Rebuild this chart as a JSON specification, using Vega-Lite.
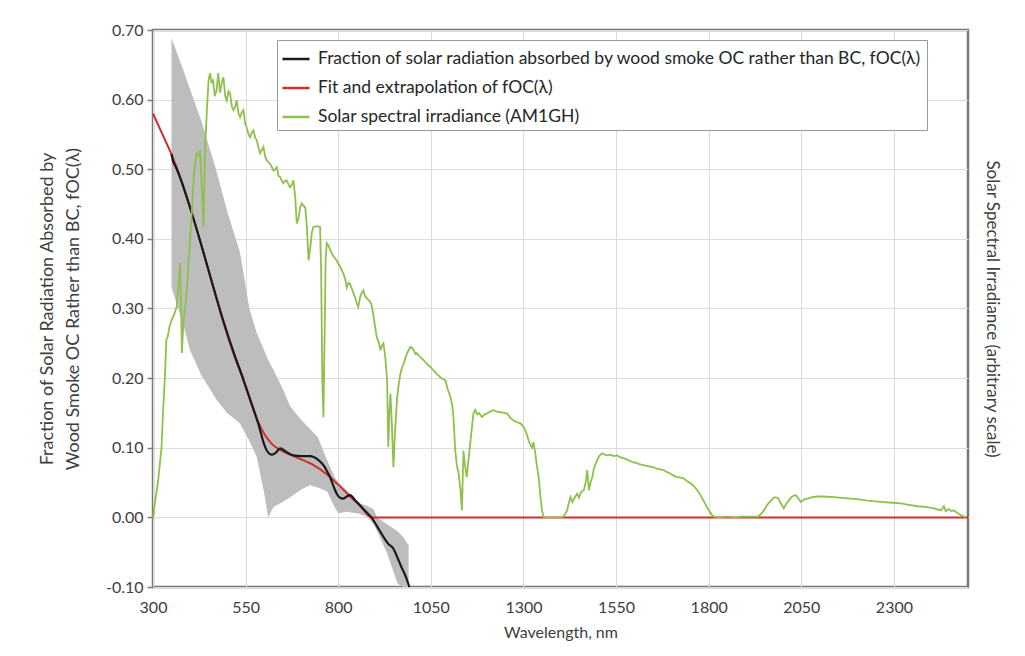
{
  "$schema": "https://vega.github.io/schema/vega-lite/v6.json",
  "autosize": {"type": "none"},
  "width": 815,
  "height": 557,
  "padding": {"left": 153, "top": 30, "right": 57, "bottom": 69},
  "background": "#ffffff",
  "config": {
    "font": "Lato",
    "view": {"stroke": "#777777", "strokeWidth": 2.5},
    "axis": {"labelFont": "Lato", "titleFont": "Lato", "labelColor": "#404040", "titleColor": "#404040", "labelFontSize": 16, "titleFontSize": 16, "titleFontWeight": "normal", "gridColor": "#dcdcdc", "gridWidth": 1}
  },
  "datasets": {
    "band": [
      {"x": 350, "lo": 0.33, "hi": 0.688}, {"x": 380, "lo": 0.28, "hi": 0.645}, {"x": 400, "lo": 0.24, "hi": 0.615},
      {"x": 430, "lo": 0.205, "hi": 0.57}, {"x": 470, "lo": 0.17, "hi": 0.5}, {"x": 500, "lo": 0.15, "hi": 0.44},
      {"x": 535, "lo": 0.135, "hi": 0.38}, {"x": 560, "lo": 0.11, "hi": 0.3}, {"x": 580, "lo": 0.087, "hi": 0.265},
      {"x": 600, "lo": 0.035, "hi": 0.24}, {"x": 611, "lo": 0.0, "hi": 0.226}, {"x": 625, "lo": 0.015, "hi": 0.212},
      {"x": 650, "lo": 0.022, "hi": 0.185}, {"x": 670, "lo": 0.029, "hi": 0.16}, {"x": 700, "lo": 0.04, "hi": 0.14},
      {"x": 724, "lo": 0.046, "hi": 0.127}, {"x": 745, "lo": 0.043, "hi": 0.115}, {"x": 770, "lo": 0.037, "hi": 0.082},
      {"x": 790, "lo": 0.015, "hi": 0.058}, {"x": 800, "lo": 0.006, "hi": 0.05}, {"x": 823, "lo": 0.008, "hi": 0.039},
      {"x": 860, "lo": 0.005, "hi": 0.02}, {"x": 880, "lo": 0.0, "hi": 0.016}, {"x": 895, "lo": -0.01, "hi": 0.012},
      {"x": 905, "lo": -0.02, "hi": 0.0}, {"x": 932, "lo": -0.052, "hi": -0.01}, {"x": 960, "lo": -0.095, "hi": -0.02},
      {"x": 975, "lo": -0.1, "hi": -0.028}, {"x": 990, "lo": -0.1, "hi": -0.04}
    ],
    "fit": [
      {"x": 300, "y": 0.58}, {"x": 330, "y": 0.545}, {"x": 355, "y": 0.515}, {"x": 380, "y": 0.478}, {"x": 400, "y": 0.445},
      {"x": 430, "y": 0.392}, {"x": 460, "y": 0.336}, {"x": 472, "y": 0.313}, {"x": 490, "y": 0.28}, {"x": 517, "y": 0.236},
      {"x": 544, "y": 0.197}, {"x": 560, "y": 0.172}, {"x": 580, "y": 0.142}, {"x": 600, "y": 0.12}, {"x": 620, "y": 0.106},
      {"x": 643, "y": 0.097}, {"x": 670, "y": 0.09}, {"x": 697, "y": 0.084}, {"x": 730, "y": 0.076}, {"x": 769, "y": 0.062},
      {"x": 800, "y": 0.047}, {"x": 832, "y": 0.03}, {"x": 860, "y": 0.016}, {"x": 891, "y": 0.0}, {"x": 2500, "y": 0.0}
    ],
    "foc": [
      {"x": 350, "y": 0.522}, {"x": 355, "y": 0.51}, {"x": 360, "y": 0.505}, {"x": 380, "y": 0.478}, {"x": 400, "y": 0.445},
      {"x": 430, "y": 0.392}, {"x": 460, "y": 0.336}, {"x": 490, "y": 0.282}, {"x": 517, "y": 0.238}, {"x": 544, "y": 0.198},
      {"x": 565, "y": 0.165}, {"x": 584, "y": 0.135}, {"x": 600, "y": 0.105}, {"x": 607, "y": 0.096}, {"x": 621, "y": 0.09},
      {"x": 632, "y": 0.093}, {"x": 643, "y": 0.099}, {"x": 660, "y": 0.094}, {"x": 679, "y": 0.089}, {"x": 700, "y": 0.088},
      {"x": 724, "y": 0.088}, {"x": 745, "y": 0.083}, {"x": 760, "y": 0.075}, {"x": 770, "y": 0.066}, {"x": 778, "y": 0.058},
      {"x": 787, "y": 0.045}, {"x": 796, "y": 0.034}, {"x": 805, "y": 0.028}, {"x": 814, "y": 0.027}, {"x": 823, "y": 0.03},
      {"x": 832, "y": 0.032}, {"x": 845, "y": 0.025}, {"x": 859, "y": 0.017}, {"x": 875, "y": 0.008}, {"x": 891, "y": -0.001},
      {"x": 905, "y": -0.013}, {"x": 922, "y": -0.028}, {"x": 935, "y": -0.038}, {"x": 949, "y": -0.045}, {"x": 960, "y": -0.058},
      {"x": 972, "y": -0.073}, {"x": 980, "y": -0.082}, {"x": 989, "y": -0.095}, {"x": 992, "y": -0.1}
    ],
    "solar": [
      {"x": 300, "y": 0}, {"x": 305, "y": 0.02}, {"x": 314, "y": 0.053}, {"x": 320, "y": 0.085}, {"x": 323, "y": 0.1},
      {"x": 327, "y": 0.15}, {"x": 332, "y": 0.2}, {"x": 336, "y": 0.255}, {"x": 340, "y": 0.26}, {"x": 345, "y": 0.275},
      {"x": 350, "y": 0.283}, {"x": 356, "y": 0.29}, {"x": 364, "y": 0.302}, {"x": 368, "y": 0.33}, {"x": 373, "y": 0.365},
      {"x": 376, "y": 0.3}, {"x": 378, "y": 0.236}, {"x": 382, "y": 0.28}, {"x": 391, "y": 0.322}, {"x": 395, "y": 0.36},
      {"x": 400, "y": 0.398}, {"x": 405, "y": 0.44}, {"x": 409, "y": 0.48}, {"x": 413, "y": 0.505}, {"x": 418, "y": 0.523},
      {"x": 423, "y": 0.52}, {"x": 427, "y": 0.527}, {"x": 432, "y": 0.47}, {"x": 436, "y": 0.417}, {"x": 441, "y": 0.537},
      {"x": 446, "y": 0.59}, {"x": 450, "y": 0.628}, {"x": 454, "y": 0.638}, {"x": 458, "y": 0.625}, {"x": 462, "y": 0.628},
      {"x": 467, "y": 0.605}, {"x": 472, "y": 0.614}, {"x": 476, "y": 0.638}, {"x": 481, "y": 0.61}, {"x": 486, "y": 0.625},
      {"x": 490, "y": 0.632}, {"x": 495, "y": 0.605}, {"x": 499, "y": 0.599}, {"x": 504, "y": 0.612}, {"x": 508, "y": 0.609},
      {"x": 513, "y": 0.59}, {"x": 517, "y": 0.585}, {"x": 522, "y": 0.59}, {"x": 526, "y": 0.599}, {"x": 531, "y": 0.58},
      {"x": 535, "y": 0.575}, {"x": 540, "y": 0.582}, {"x": 544, "y": 0.585}, {"x": 549, "y": 0.565}, {"x": 553, "y": 0.56},
      {"x": 558, "y": 0.55}, {"x": 562, "y": 0.546}, {"x": 567, "y": 0.553}, {"x": 571, "y": 0.556}, {"x": 576, "y": 0.545},
      {"x": 580, "y": 0.542}, {"x": 585, "y": 0.53}, {"x": 589, "y": 0.523}, {"x": 594, "y": 0.528}, {"x": 598, "y": 0.532},
      {"x": 603, "y": 0.518}, {"x": 607, "y": 0.513}, {"x": 612, "y": 0.51}, {"x": 616, "y": 0.508}, {"x": 621, "y": 0.503},
      {"x": 625, "y": 0.498}, {"x": 630, "y": 0.5}, {"x": 634, "y": 0.503}, {"x": 639, "y": 0.49}, {"x": 643, "y": 0.489},
      {"x": 648, "y": 0.483}, {"x": 652, "y": 0.48}, {"x": 656, "y": 0.483}, {"x": 661, "y": 0.484}, {"x": 666, "y": 0.478},
      {"x": 670, "y": 0.474}, {"x": 675, "y": 0.478}, {"x": 679, "y": 0.484}, {"x": 684, "y": 0.46}, {"x": 688, "y": 0.422},
      {"x": 693, "y": 0.43}, {"x": 697, "y": 0.445}, {"x": 702, "y": 0.451}, {"x": 706, "y": 0.448}, {"x": 711, "y": 0.445},
      {"x": 715, "y": 0.42}, {"x": 720, "y": 0.369}, {"x": 725, "y": 0.39}, {"x": 729, "y": 0.41}, {"x": 733, "y": 0.417},
      {"x": 740, "y": 0.418}, {"x": 745, "y": 0.418}, {"x": 751, "y": 0.417}, {"x": 754, "y": 0.35}, {"x": 757, "y": 0.2},
      {"x": 760, "y": 0.144}, {"x": 763, "y": 0.25}, {"x": 766, "y": 0.37}, {"x": 769, "y": 0.394}, {"x": 774, "y": 0.39},
      {"x": 780, "y": 0.382}, {"x": 787, "y": 0.375}, {"x": 796, "y": 0.369}, {"x": 805, "y": 0.36}, {"x": 814, "y": 0.35},
      {"x": 819, "y": 0.342}, {"x": 823, "y": 0.33}, {"x": 828, "y": 0.337}, {"x": 832, "y": 0.335}, {"x": 837, "y": 0.328},
      {"x": 841, "y": 0.322}, {"x": 846, "y": 0.315}, {"x": 850, "y": 0.308}, {"x": 854, "y": 0.302}, {"x": 859, "y": 0.316},
      {"x": 863, "y": 0.322}, {"x": 868, "y": 0.326}, {"x": 872, "y": 0.318}, {"x": 877, "y": 0.315}, {"x": 882, "y": 0.312},
      {"x": 886, "y": 0.31}, {"x": 890, "y": 0.305}, {"x": 895, "y": 0.29}, {"x": 900, "y": 0.272}, {"x": 904, "y": 0.259},
      {"x": 910, "y": 0.25}, {"x": 914, "y": 0.24}, {"x": 918, "y": 0.247}, {"x": 922, "y": 0.25}, {"x": 927, "y": 0.23},
      {"x": 932, "y": 0.197}, {"x": 935, "y": 0.101}, {"x": 938, "y": 0.15}, {"x": 941, "y": 0.178}, {"x": 945, "y": 0.13},
      {"x": 949, "y": 0.072}, {"x": 953, "y": 0.12}, {"x": 959, "y": 0.172}, {"x": 963, "y": 0.19}, {"x": 968, "y": 0.207},
      {"x": 972, "y": 0.215}, {"x": 977, "y": 0.221}, {"x": 981, "y": 0.228}, {"x": 986, "y": 0.236}, {"x": 990, "y": 0.24},
      {"x": 995, "y": 0.245}, {"x": 1000, "y": 0.243}, {"x": 1004, "y": 0.24}, {"x": 1008, "y": 0.235}, {"x": 1012, "y": 0.236},
      {"x": 1022, "y": 0.23}, {"x": 1030, "y": 0.226}, {"x": 1040, "y": 0.22}, {"x": 1049, "y": 0.216}, {"x": 1057, "y": 0.211},
      {"x": 1066, "y": 0.206}, {"x": 1076, "y": 0.201}, {"x": 1085, "y": 0.198}, {"x": 1089, "y": 0.197}, {"x": 1095, "y": 0.185},
      {"x": 1103, "y": 0.173}, {"x": 1108, "y": 0.16}, {"x": 1111, "y": 0.144}, {"x": 1116, "y": 0.096}, {"x": 1120, "y": 0.075},
      {"x": 1125, "y": 0.063}, {"x": 1130, "y": 0.04}, {"x": 1134, "y": 0.01}, {"x": 1138, "y": 0.096}, {"x": 1142, "y": 0.075},
      {"x": 1147, "y": 0.058}, {"x": 1152, "y": 0.085}, {"x": 1157, "y": 0.11}, {"x": 1161, "y": 0.13}, {"x": 1165, "y": 0.149},
      {"x": 1170, "y": 0.154}, {"x": 1175, "y": 0.148}, {"x": 1180, "y": 0.15}, {"x": 1188, "y": 0.144}, {"x": 1195, "y": 0.148},
      {"x": 1201, "y": 0.149}, {"x": 1210, "y": 0.152}, {"x": 1219, "y": 0.154}, {"x": 1228, "y": 0.152}, {"x": 1238, "y": 0.151},
      {"x": 1247, "y": 0.15}, {"x": 1256, "y": 0.149}, {"x": 1265, "y": 0.143}, {"x": 1273, "y": 0.139}, {"x": 1282, "y": 0.137},
      {"x": 1292, "y": 0.135}, {"x": 1300, "y": 0.13}, {"x": 1305, "y": 0.125}, {"x": 1310, "y": 0.118}, {"x": 1314, "y": 0.11},
      {"x": 1319, "y": 0.104}, {"x": 1323, "y": 0.1}, {"x": 1327, "y": 0.108}, {"x": 1332, "y": 0.092}, {"x": 1336, "y": 0.075},
      {"x": 1341, "y": 0.058}, {"x": 1345, "y": 0.035}, {"x": 1350, "y": 0.01}, {"x": 1355, "y": 0}, {"x": 1405, "y": 0},
      {"x": 1410, "y": 0.003}, {"x": 1418, "y": 0.01}, {"x": 1422, "y": 0.02}, {"x": 1427, "y": 0.029}, {"x": 1432, "y": 0.022},
      {"x": 1436, "y": 0.026}, {"x": 1440, "y": 0.03}, {"x": 1445, "y": 0.034}, {"x": 1450, "y": 0.028}, {"x": 1455, "y": 0.036},
      {"x": 1463, "y": 0.039}, {"x": 1468, "y": 0.05}, {"x": 1472, "y": 0.068}, {"x": 1477, "y": 0.039}, {"x": 1481, "y": 0.05},
      {"x": 1486, "y": 0.058}, {"x": 1490, "y": 0.07}, {"x": 1495, "y": 0.077}, {"x": 1499, "y": 0.082}, {"x": 1503, "y": 0.087},
      {"x": 1508, "y": 0.09}, {"x": 1512, "y": 0.092}, {"x": 1520, "y": 0.09}, {"x": 1526, "y": 0.089}, {"x": 1535, "y": 0.09},
      {"x": 1544, "y": 0.088}, {"x": 1553, "y": 0.089}, {"x": 1562, "y": 0.086}, {"x": 1570, "y": 0.085}, {"x": 1580, "y": 0.083},
      {"x": 1588, "y": 0.081}, {"x": 1597, "y": 0.079}, {"x": 1606, "y": 0.078}, {"x": 1615, "y": 0.076}, {"x": 1624, "y": 0.075},
      {"x": 1633, "y": 0.074}, {"x": 1642, "y": 0.073}, {"x": 1651, "y": 0.072}, {"x": 1660, "y": 0.07}, {"x": 1669, "y": 0.069},
      {"x": 1678, "y": 0.068}, {"x": 1688, "y": 0.065}, {"x": 1696, "y": 0.063}, {"x": 1705, "y": 0.06}, {"x": 1714, "y": 0.058},
      {"x": 1723, "y": 0.057}, {"x": 1732, "y": 0.056}, {"x": 1742, "y": 0.052}, {"x": 1751, "y": 0.049}, {"x": 1760, "y": 0.045},
      {"x": 1769, "y": 0.039}, {"x": 1778, "y": 0.032}, {"x": 1786, "y": 0.024}, {"x": 1794, "y": 0.016}, {"x": 1801, "y": 0.01},
      {"x": 1808, "y": 0.004}, {"x": 1814, "y": 0.001}, {"x": 1830, "y": 0}, {"x": 1850, "y": 0.001}, {"x": 1870, "y": 0},
      {"x": 1890, "y": 0.001}, {"x": 1910, "y": 0.001}, {"x": 1932, "y": 0.001}, {"x": 1940, "y": 0.004}, {"x": 1949, "y": 0.01},
      {"x": 1958, "y": 0.018}, {"x": 1968, "y": 0.024}, {"x": 1975, "y": 0.028}, {"x": 1981, "y": 0.029}, {"x": 1988, "y": 0.027},
      {"x": 1995, "y": 0.02}, {"x": 2003, "y": 0.013}, {"x": 2010, "y": 0.02}, {"x": 2016, "y": 0.024}, {"x": 2025, "y": 0.03},
      {"x": 2035, "y": 0.032}, {"x": 2042, "y": 0.027}, {"x": 2049, "y": 0.022}, {"x": 2058, "y": 0.026}, {"x": 2067, "y": 0.027},
      {"x": 2080, "y": 0.029}, {"x": 2094, "y": 0.03}, {"x": 2110, "y": 0.03}, {"x": 2138, "y": 0.029}, {"x": 2160, "y": 0.028},
      {"x": 2184, "y": 0.027}, {"x": 2205, "y": 0.026}, {"x": 2229, "y": 0.024}, {"x": 2250, "y": 0.023}, {"x": 2273, "y": 0.022},
      {"x": 2296, "y": 0.021}, {"x": 2319, "y": 0.02}, {"x": 2340, "y": 0.018}, {"x": 2364, "y": 0.016}, {"x": 2385, "y": 0.015},
      {"x": 2408, "y": 0.013}, {"x": 2420, "y": 0.011}, {"x": 2427, "y": 0.01}, {"x": 2435, "y": 0.016}, {"x": 2440, "y": 0.009},
      {"x": 2448, "y": 0.012}, {"x": 2455, "y": 0.009}, {"x": 2462, "y": 0.01}, {"x": 2470, "y": 0.007}, {"x": 2481, "y": 0.003},
      {"x": 2495, "y": 0.0}
    ]
  },
  "layer": [
    {
      "layer": [
        {
          "data": {"name": "band"},
          "mark": {"type": "area", "color": "#bdbdbd", "opacity": 1},
          "encoding": {
            "x": {"field": "x", "type": "quantitative", "scale": {"domain": [300, 2500], "nice": false, "zero": false},
              "axis": {"values": [300, 550, 800, 1050, 1300, 1550, 1800, 2050, 2300], "format": "d", "labelFlush": false, "grid": true, "ticks": false, "domain": false, "labelPadding": 12, "title": "Wavelength, nm", "titlePadding": 9}},
            "y": {"field": "lo", "type": "quantitative", "scale": {"domain": [-0.1, 0.7], "nice": false, "zero": false},
              "axis": {"values": [-0.1, 0, 0.1, 0.2, 0.3, 0.4, 0.5, 0.6, 0.7], "format": ".2f", "labelExpr": "replace(datum.label, '−', '-')", "labelFlush": false, "grid": true, "ticks": true, "tickSize": 6, "tickColor": "#7f7f7f", "tickWidth": 1.5, "domain": false, "labelPadding": 4,
                "title": ["Fraction of Solar Radiation Absorbed by", "Wood Smoke OC Rather than BC, fOC(λ)"], "titleFontSize": 18, "titlePadding": 23, "titleLineHeight": 26}},
            "y2": {"field": "hi"}
          }
        },
        {
          "data": {"name": "fit"},
          "mark": {"type": "line", "strokeWidth": 2, "interpolate": "monotone"},
          "encoding": {
            "x": {"field": "x", "type": "quantitative"},
            "y": {"field": "y", "type": "quantitative"},
            "color": {"datum": "Fit and extrapolation of fOC(λ)"}
          }
        },
        {
          "data": {"name": "foc"},
          "mark": {"type": "line", "strokeWidth": 2.2, "interpolate": "monotone"},
          "encoding": {
            "x": {"field": "x", "type": "quantitative"},
            "y": {"field": "y", "type": "quantitative"},
            "color": {"datum": "Fraction of solar radiation absorbed by wood smoke OC rather than BC, fOC(λ)"}
          }
        }
      ]
    },
    {
      "data": {"name": "solar"},
      "mark": {"type": "line", "strokeWidth": 1.8},
      "encoding": {
        "x": {"field": "x", "type": "quantitative"},
        "y": {"field": "y", "type": "quantitative", "scale": {"domain": [-0.1, 0.7], "nice": false, "zero": false},
          "axis": {"orient": "right", "labels": false, "ticks": false, "domain": false, "grid": false, "title": "Solar Spectral Irradiance (arbitrary scale)", "titleFontSize": 17, "titlePadding": 14}},
        "color": {"datum": "Solar spectral irradiance (AM1GH)",
          "scale": {"domain": ["Fraction of solar radiation absorbed by wood smoke OC rather than BC, fOC(λ)", "Fit and extrapolation of fOC(λ)", "Solar spectral irradiance (AM1GH)"], "range": ["#1a1a1a", "#d02c2c", "#8fc04c"]},
          "legend": {"title": null, "orient": "none", "legendX": 124, "legendY": 10, "symbolType": "stroke", "symbolSize": 729, "symbolStrokeWidth": 2.5, "labelFontSize": 17.5, "labelColor": "#262626", "labelFont": "Lato", "labelLimit": 800, "labelOffset": 7, "rowPadding": 5, "padding": 4, "strokeColor": "#9a9a9a", "fillColor": "#ffffff", "cornerRadius": 0}}
      }
    }
  ],
  "resolve": {"scale": {"y": "independent"}}
}
